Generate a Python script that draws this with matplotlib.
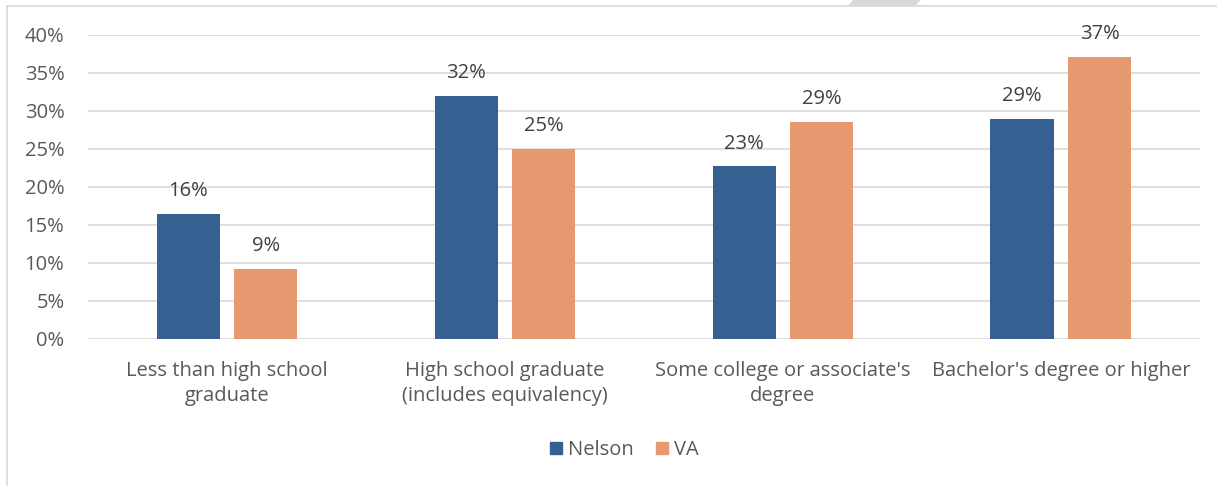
import matplotlib.pyplot as plt
from matplotlib.patches import Patch, Polygon
from matplotlib.lines import Line2D
import numpy as np

plt.rcParams['font.family'] = ['Open Sans', 'DejaVu Sans']

categories = ["Less than high school\ngraduate",
              "High school graduate\n(includes equivalency)",
              "Some college or associate's\ndegree",
              "Bachelor's degree or higher"]
nelson = [16.4, 32.0, 22.7, 29.0]
va = [9.2, 25.0, 28.6, 37.1]

blue = "#376092"
orange = "#E6996F"
grey = "#595959"

fig = plt.figure(figsize=(12.17, 4.86), dpi=100)
ax = fig.add_axes([0.0723, 0.3025, 0.9137, 0.6255])

x = np.arange(len(categories))
w = 0.227
off = 0.14
b1 = ax.bar(x - off, nelson, w, color=blue, label="Nelson", zorder=3)
b2 = ax.bar(x + off, va, w, color=orange, label="VA", zorder=3)

for bars, vals in ((b1, nelson), (b2, va)):
    for r, v in zip(bars, vals):
        ax.text(r.get_x() + r.get_width() / 2, v + 1.7, f"{v:.0f}%",
                ha="center", va="bottom", fontsize=14.5, color="#404040")

ax.set_xlim(-0.5, 3.5)
ax.set_ylim(0, 40)
ax.set_yticks(range(0, 41, 5))
ax.set_yticklabels([f"{t}%" for t in range(0, 41, 5)])
ax.set_xticks(x)
ax.set_xticklabels(categories, linespacing=1.35)
ax.tick_params(axis="both", length=0, colors=grey, labelsize=14.5)
ax.tick_params(axis="y", pad=17)
ax.tick_params(axis="x", pad=16)
ax.grid(axis="y", color="#d9d9d9", linewidth=1.2, zorder=0)
for s in ax.spines.values():
    s.set_visible(False)

handles = [Patch(color=blue, label="Nelson"), Patch(color=orange, label="VA")]
fig.legend(handles=handles, loc="center", bbox_to_anchor=(0.513, 0.074),
           ncol=2, frameon=False, fontsize=14.5, handlelength=0.6,
           handleheight=0.6, handletextpad=0.3, columnspacing=1.1,
           labelcolor=grey)

# outer chart border (left and top edges visible)
fig.add_artist(Line2D([0.0058, 0.0058], [0, 0.988], color="#d9d9d9", lw=1.2))
fig.add_artist(Line2D([0.0058, 1], [0.988, 0.988], color="#d9d9d9", lw=1.2))
# small grey tab at the top edge
fig.add_artist(Polygon([[848 / 1217, 0.988], [915 / 1217, 0.988],
                        [921 / 1217, 1.0], [853 / 1217, 1.0]],
                       closed=True, color="#d9d9d9", lw=0,
                       transform=fig.transFigure))

fig.savefig("out.png", dpi=100)
